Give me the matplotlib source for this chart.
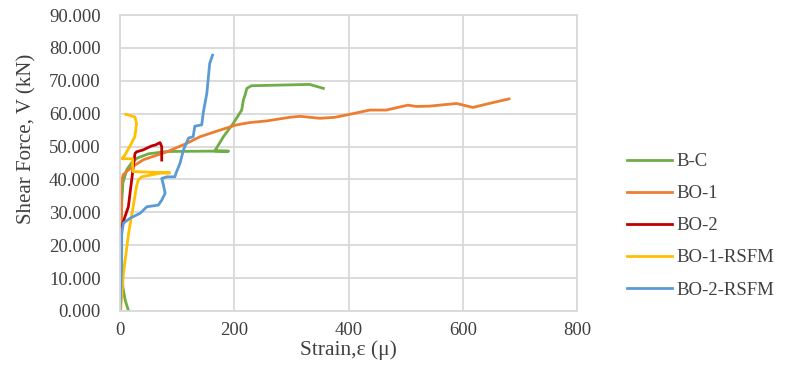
import matplotlib
matplotlib.use('Agg')
import matplotlib.pyplot as plt
from matplotlib.ticker import FormatStrFormatter

plt.rcParams['font.family'] = ['Liberation Serif', 'DejaVu Serif']

# strain (micro) and shear force (kN) for each specimen
bc_x = [15, 9, 5, 3, 2, 3, 5, 12, 20, 30, 50, 82, 150, 190, 166, 181, 198, 213, 216, 219, 222, 230, 280, 332, 356]
bc_y = [0, 3.3, 7.4, 15, 25, 33, 39, 43, 45, 46.5, 47.8, 48.5, 48.6, 48.6, 48.7, 53, 57, 61.1, 64.2, 65.7, 67.7, 68.5, 68.7, 68.9, 67.7]

bo1_x = [0, 1, 1, 2, 3, 1, 3, 6, 12, 23, 41, 82, 117, 140, 175, 204, 227, 257, 297, 315, 350, 376,
         402, 437, 466, 504, 519, 542, 589, 618, 641, 681]
bo1_y = [0, 5, 15, 25, 33, 37, 40, 41.5, 42.5, 44, 46, 48.4, 51, 53, 55, 56.6, 57.3, 57.8, 58.9, 59.2, 58.6, 58.9,
         59.8, 61.1, 61.1, 62.6, 62.2, 62.3, 63.1, 61.9, 62.9, 64.5]

bo2_x = [0, 0, -1, 0, 1, 2, 3, 8.7, 14.6, 17.5, 20.4, 23.3, 26.2, 29, 40.8, 46.6, 55.4, 62, 70, 73, 73]
bo2_y = [0, 3, 8, 12, 18, 22, 25.6, 28.7, 31.7, 35.8, 39.8, 43.9, 47.9, 48.4, 49, 49.5, 50.2, 50.5, 51.2, 50, 45.9]

bo1r_x = [1, 6, 15, 23, 29, 32, 38, 70, 87, 23, 22, 22, 3, 8, 17, 26, 29, 26, 15, 10]
bo1r_y = [0, 11.5, 23.6, 31.7, 38, 39.8, 40.8, 41.9, 42, 42.4, 45, 46.3, 46.3, 47.3, 50, 53, 57, 59, 59.6, 59.8]

bo2r_x = [0, 1, 2, 3, 3, 6, 17.5, 35, 47, 67, 73, 79, 76, 73, 82, 96, 98, 105, 111, 120, 128, 131, 143, 146, 152, 157, 162]
bo2r_y = [0.3, 5, 10, 18, 23.6, 26.7, 28.2, 29.7, 31.7, 32.2, 33.7, 35.8, 38.3, 40.3, 40.8, 40.8, 41.9, 44.9, 49, 52.6, 53, 56.2, 56.6, 60.6, 66.2, 75.3, 77.8]

fig = plt.figure(figsize=(7.86, 3.76), dpi=100)
ax = fig.add_axes([0.1527, 0.1729, 0.5814, 0.7871])

lw = 2.0
ax.plot(bc_x, bc_y, color='#70ad47', lw=lw, label='B-C')
ax.plot(bo1_x, bo1_y, color='#ed7d31', lw=lw, label='BO-1')
ax.plot(bo2_x, bo2_y, color='#c00000', lw=lw, label='BO-2')
ax.plot(bo1r_x, bo1r_y, color='#ffc000', lw=lw, label='BO-1-RSFM')
ax.plot(bo2r_x, bo2r_y, color='#5b9bd5', lw=lw, label='BO-2-RSFM')

ax.set_xlim(0, 800)
ax.set_ylim(0, 90)
ax.set_xticks(range(0, 801, 200))
ax.set_yticks(range(0, 91, 10))
ax.yaxis.set_major_formatter(FormatStrFormatter('%.3f'))
ax.grid(True, color='#d9d9d9', lw=1.3)
ax.set_axisbelow(True)
for s in ax.spines.values():
    s.set_color('#d9d9d9')
    s.set_linewidth(1.3)
ax.tick_params(length=0, labelsize=13.5, colors='#404040')
ax.tick_params(axis='y', pad=14)
ax.tick_params(axis='x', pad=8)

ax.set_xlabel('Strain,\u03b5 (\u03bc)', fontsize=15.5, color='#404040')
ax.set_ylabel('Shear Force, V (kN)', fontsize=15, color='#404040')
ax.xaxis.set_label_coords(0.499, -0.1)
ax.yaxis.set_label_coords(-0.182, 0.58)

ax.legend(loc='center left', bbox_to_anchor=(1.109, 0.288), frameon=False,
          borderaxespad=0, borderpad=0, fontsize=13.5, handlelength=2.4,
          handletextpad=0.27, labelspacing=0.8, labelcolor='#404040')

fig.savefig('out.png', dpi=100)
